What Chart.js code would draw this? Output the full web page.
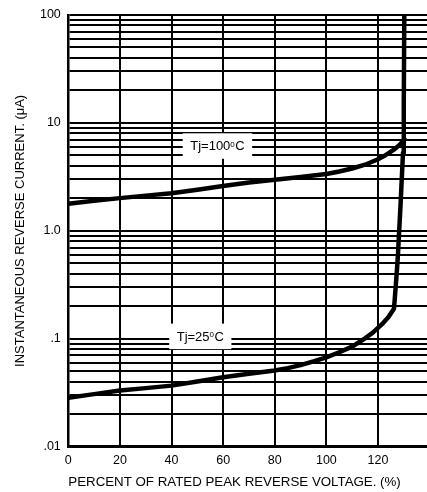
<!DOCTYPE html>
<html><head><meta charset="utf-8">
<script src="https://cdn.jsdelivr.net/npm/chart.js@4.4.1/dist/chart.umd.min.js"></script>
<style>html,body{margin:0;padding:0;background:#fff;overflow:hidden}canvas{display:block}</style>
</head><body>
<canvas id="c" width="427" height="492" style="width:427px;height:492px"></canvas>
<script>
// Tj = 100 °C curve
const pct100 = [0, 10, 20, 30, 40, 50, 60, 70, 80, 90, 100, 105, 110, 115, 120, 122, 124, 126, 128, 129.5, 130.7];
const cur100 = [1.78, 1.9, 2.01, 2.12, 2.23, 2.4, 2.6, 2.8, 2.98, 3.16, 3.36, 3.55, 3.78, 4.1, 4.61, 4.88, 5.22, 5.62, 6.15, 6.7, 7.3];
// Tj = 25 °C curve
const pct25 = [0, 10, 20, 30, 40, 50, 60, 70, 80, 85, 90, 95, 100, 105, 110, 115, 118, 120, 122, 124, 126.2, 126.6, 127.4, 127.8, 128.8, 129.7, 130.0, 130.2];
const cur25 = [0.0284, 0.0307, 0.0331, 0.0349, 0.0368, 0.0402, 0.044, 0.0475, 0.0508, 0.0535, 0.057, 0.0617, 0.0673, 0.075, 0.0845, 0.101, 0.114, 0.126, 0.14, 0.158, 0.19, 0.25, 0.45, 0.64, 1.85, 5.3, 15.3, 100];

const xTickValues = [0, 20, 40, 60, 80, 100, 120];
const yDecades = [0.01, 0.1, 1, 10];
const yMultipliers = [1, 2, 3, 4, 5, 6, 7, 8, 9];
const yTopValue = 100;
const yMajorValues = [0.01, 0.1, 1, 10, 100];
const yMajorLabels = ['.01', '.1', '1.0', '10', '100'];
const curveNames = ['Tj=100', 'Tj=25'];

const FONT = '"Liberation Sans", Arial, Helvetica, sans-serif';

const yGrid = [];
yDecades.forEach(d => yMultipliers.forEach(m => yGrid.push(parseFloat((d * m).toPrecision(3)))));
yGrid.push(yTopValue);

const labelSpecs = [
  { name: curveNames[0], x: 57.8, y: 6.14 },
  { name: curveNames[1], x: 51.15, y: 0.1058 }
];

const labelPlugin = {
  id: 'curveLabels',
  beforeDatasetsDraw(chart) {
    const ctx = chart.ctx, xs = chart.scales.x, ys = chart.scales.y;
    labelSpecs.forEach(l => {
      const cx = xs.getPixelForValue(l.x), cy = ys.getPixelForValue(l.y);
      const big = '13px ' + FONT, small = '8px ' + FONT;
      ctx.save();
      ctx.font = big;
      const w1 = ctx.measureText(l.name).width, w3 = ctx.measureText('C').width;
      ctx.font = small;
      const w2 = ctx.measureText('0').width;
      const w = w1 + w2 + w3 + 0.5;
      ctx.fillStyle = '#fff';
      ctx.fillRect(cx - w / 2 - 7.5, cy - 12.5, w + 15, 25.5);
      ctx.fillStyle = '#000';
      ctx.textBaseline = 'alphabetic';
      ctx.textAlign = 'left';
      let x = cx - w / 2;
      const base = cy + 4.7;
      ctx.font = big; ctx.fillText(l.name, x, base); x += w1;
      ctx.font = small; ctx.fillText('0', x, base - 3.8); x += w2 + 0.5;
      ctx.font = big; ctx.fillText('C', x, base);
      ctx.restore();
    });
  }
};

new Chart(document.getElementById('c'), {
  type: 'line',
  data: {
    datasets: [
      {
        data: pct100.map((x, i) => ({ x, y: cur100[i] })),
        borderColor: '#000', borderWidth: 4.5, pointRadius: 0, fill: false,
        tension: 0, borderCapStyle: 'butt', borderJoinStyle: 'round'
      },
      {
        data: pct25.map((x, i) => ({ x, y: cur25[i] })),
        borderColor: '#000', borderWidth: 4.5, pointRadius: 0, fill: false,
        tension: 0, borderCapStyle: 'butt', borderJoinStyle: 'round'
      }
    ]
  },
  options: {
    responsive: false,
    animation: false,
    events: [],
    layout: { padding: { top: 11.7, left: 0, right: 0, bottom: 0 } },
    plugins: { legend: { display: false }, tooltip: { enabled: false } },
    scales: {
      x: {
        type: 'linear', min: 0, max: 139,
        afterBuildTicks: s => { s.ticks = xTickValues.map(v => ({ value: v })); },
        afterFit: s => { s.height = 45.3; },
        grid: { color: '#000', lineWidth: 2, drawTicks: false },
        border: { color: '#000', width: 2.5 },
        ticks: { autoSkip: false, maxRotation: 0, padding: 6, color: '#000', font: { family: FONT, size: 12.5 } },
        title: {
          display: true, text: 'PERCENT OF RATED PEAK REVERSE VOLTAGE. (%)', align: 'start',
          color: '#000', font: { family: FONT, size: 13.3 }, padding: { top: 0, bottom: 2 }
        }
      },
      y: {
        type: 'logarithmic', min: 0.01, max: 100,
        afterBuildTicks: s => { s.ticks = yGrid.map(v => ({ value: v })); },
        afterFit: s => { s.width = 68.3; },
        grid: { color: '#000', lineWidth: 2, drawTicks: false },
        border: { color: '#000', width: 2.5 },
        ticks: {
          autoSkip: false, padding: 7.5, color: '#000', font: { family: FONT, size: 12.5 },
          callback: v => {
            const i = yMajorValues.findIndex(m => Math.abs(m - v) / m < 1e-6);
            return i >= 0 ? yMajorLabels[i] : '';
          }
        },
        title: {
          display: true, text: 'INSTANTANEOUS REVERSE CURRENT. (μA)',
          color: '#000', font: { family: FONT, size: 13 }, padding: { top: 12.2, bottom: 0 }
        }
      }
    }
  },
  plugins: [labelPlugin]
});
</script>
</body></html>
